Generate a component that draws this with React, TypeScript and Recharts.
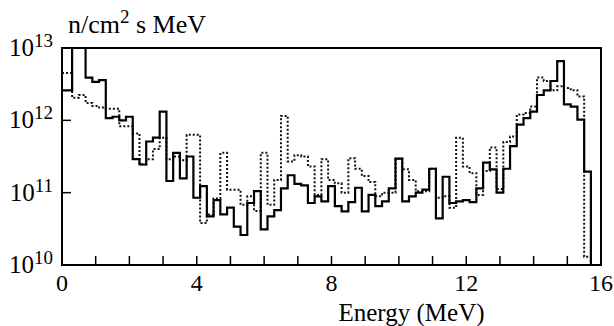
import React from 'react';
import { LineChart, Line, XAxis, YAxis, ReferenceArea } from 'recharts';

// bin edges (MeV)
const energy = [
  0, 0.3, 0.5, 0.7, 0.9, 1.1, 1.3, 1.5, 1.7, 1.9, 2.1, 2.3, 2.5, 2.7, 2.9, 3.1, 3.3, 3.5, 3.7, 3.9,
  4.1, 4.3, 4.5, 4.7, 4.9, 5.1, 5.3, 5.5, 5.7, 5.9, 6.1, 6.3, 6.5, 6.7, 6.9, 7.1, 7.3, 7.5, 7.7, 7.9,
  8.1, 8.3, 8.5, 8.7, 8.9, 9.1, 9.3, 9.5, 9.7, 9.9, 10.1, 10.3, 10.5, 10.7, 10.9, 11.1, 11.3, 11.5, 11.7, 11.9,
  12.1, 12.3, 12.5, 12.7, 12.9, 13.1, 13.3, 13.5, 13.7, 13.9, 14.1, 14.3, 14.5, 14.7, 14.9, 15.1, 15.3, 15.5, 15.7, 15.9,
  16,
];

// flux per bin, solid histogram
const solid = [
  2.6e12, 2e13, 2e13, 3.9e12, 3.4e12, 3.6e12, 1.07e12, 1.12e12, 1.0e12, 1.12e12,
  2.9e11, 2.45e11, 5.1e11, 5.75e11, 1.32e12, 1.45e11, 3.55e11, 1.58e11, 3.16e11, 8.5e10,
  1.23e11, 4.7e10, 7.9e10, 5.0e10, 6.2e10, 3.4e10, 2.6e10, 7.2e10, 1.05e11, 3.1e10,
  4.7e10, 5.75e10, 1.15e11, 1.74e11, 1.32e11, 1.26e11, 7.2e10, 8.9e10, 7.6e10, 1.23e11,
  6.5e10, 5.5e10, 7.4e10, 1.17e11, 5.5e10, 9.3e10, 6.5e10, 7.6e10, 1.15e11, 2.95e11,
  7.6e10, 8.9e10, 1.0e11, 1.1e11, 2.14e11, 4.4e10, 1.66e11, 7.2e10, 7.6e10, 7.9e10,
  7.4e10, 1.15e11, 2.6e11, 2.1e11, 1.0e11, 2.14e11, 4.4e11, 8.7e11, 1.07e12, 1.32e12,
  2.24e12, 2.6e12, 3.5e12, 6.6e12, 1.66e12, 1.55e12, 1.02e12, 1.95e11, 1e9, 1e9,
];

// flux per bin, dotted histogram
const dotted = [
  4.5e12, 2.05e12, 2.24e12, 1.74e12, 1.58e12, 1.5e12, 1.45e12, 1.45e12, 8.3e11, 8.3e11,
  6.6e11, 2.45e11, 2.9e11, 4.0e11, 5.75e11, 2.9e11, 3.16e11, 2.8e11, 6.3e11, 6.3e11,
  3.8e10, 5.0e10, 8.3e10, 3.55e11, 1.1e11, 1.1e11, 6.8e10, 8.9e10, 5.6e10, 3.55e11,
  6.8e10, 1.5e11, 1.15e12, 2.7e11, 3.3e11, 3.16e11, 2.3e11, 9.3e10, 2.9e11, 1.5e11,
  1.35e11, 1.0e11, 3.0e11, 2.14e11, 1.7e11, 1.4e11, 8.9e10, 1.0e11, 1.0e11, 2.95e11,
  2.1e11, 1.5e11, 1.05e11, 1.05e11, 2.14e11, 8.5e10, 8.9e10, 6.2e10, 5.75e11, 2.3e11,
  1.86e11, 9.3e10, 2.0e11, 4.2e11, 1.12e11, 5.0e11, 6.0e11, 1.2e12, 1.26e12, 1.55e12,
  3.9e12, 3.5e12, 2.6e12, 2.95e12, 2.8e12, 2.6e12, 2.14e12, 1.3e10, 1e9, 1e9,
];

const xTicks = [0, 1, 2, 3, 4, 5, 6, 7, 8, 9, 10, 11, 12, 13, 14, 15, 16];
const xLabels = [0, 4, 8, 12, 16];
const yTicks = [1e10, 1e11, 1e12, 1e13];

const rows = energy.map((e, i) => ({
  e,
  solid: solid[Math.min(i, solid.length - 1)],
  dotted: dotted[Math.min(i, dotted.length - 1)],
}));

const txt = { fontFamily: '"Liberation Serif", "Times New Roman", serif' };

const XTick = (props: any) => {
  const { x, y, payload } = props;
  const v = payload.value;
  return (
    <g>
      {v > 0 && v < 16 && <line x1={x} x2={x} y1={y} y2={y - 9} stroke="#000" strokeWidth={1.5} />}
      {xLabels.includes(v) && (
        <text x={x} y={y + 26} textAnchor="middle" style={txt} fontSize={24} fill="#000">
          {v}
        </text>
      )}
    </g>
  );
};

const YTick = (props: any) => {
  const { x, y, payload } = props;
  const exp = Math.round(Math.log10(payload.value));
  return (
    <g>
      {exp > 10 && exp < 13 && <line x1={x} x2={x + 9} y1={y} y2={y} stroke="#000" strokeWidth={1.5} />}
      <text x={x - 9} y={y + 8} textAnchor="end" style={txt} fontSize={25} fill="#000">
        <tspan>10</tspan>
        <tspan dy={-9} fontSize={19}>{exp}</tspan>
      </text>
    </g>
  );
};

const XLabel = (props: any) => {
  const vb = props.viewBox || {};
  return (
    <text x={vb.x + vb.width / 2 + 80} y={321} textAnchor="middle" style={txt} fontSize={25} fill="#000">
      Energy (MeV)
    </text>
  );
};

const YLabel = (props: any) => {
  const vb = props.viewBox || {};
  return (
    <text x={vb.x + vb.width + 6} y={vb.y - 15} style={txt} fontSize={26} fill="#000">
      <tspan>n/cm</tspan>
      <tspan dy={-10} fontSize={19}>2</tspan>
      <tspan dy={10}> s MeV</tspan>
    </text>
  );
};

export default function App() {
  return (
    <div style={{ position: 'absolute', left: 0, top: 0, width: 614, height: 326, background: '#fff' }}>
      <LineChart width={614} height={326} data={rows} margin={{ top: 48, right: 13, bottom: 0, left: 0 }}>
        <XAxis
          dataKey="e"
          type="number"
          domain={[0, 16]}
          ticks={xTicks}
          interval={0}
          height={61}
          axisLine={false}
          tickLine={false}
          tickSize={0}
          tickMargin={0}
          tick={<XTick />}
          label={<XLabel />}
        />
        <YAxis
          type="number"
          scale="log"
          domain={[1e10, 1e13]}
          allowDataOverflow
          ticks={yTicks}
          interval={0}
          width={62}
          axisLine={false}
          tickLine={false}
          tickSize={0}
          tickMargin={0}
          tick={<YTick />}
          label={<YLabel />}
        />
        <Line
          type="stepAfter"
          dataKey="dotted"
          stroke="#111"
          strokeWidth={2}
          strokeDasharray="2 2"
          dot={false}
          activeDot={false}
          isAnimationActive={false}
        />
        <Line
          type="stepAfter"
          dataKey="solid"
          stroke="#000"
          strokeWidth={2.2}
          dot={false}
          activeDot={false}
          isAnimationActive={false}
        />
        <ReferenceArea x1={0} x2={16} y1={1e10} y2={1e13} fill="none" stroke="#000" strokeWidth={2} ifOverflow="visible" />
      </LineChart>
    </div>
  );
}
